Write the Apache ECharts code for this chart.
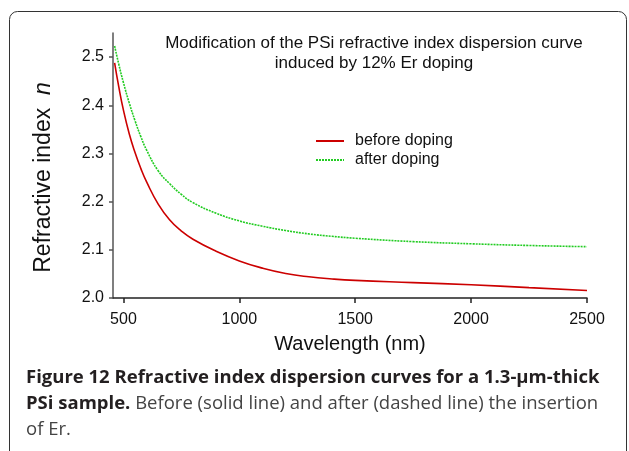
<!DOCTYPE html>
<html>
<head>
<meta charset="utf-8">
<script src="https://cdn.jsdelivr.net/npm/echarts@6/dist/echarts.min.js"></script>
<style>
  html, body { margin: 0; padding: 0; background: #fff; }
  #chart { width: 629px; height: 451px; }
</style>
</head>
<body>
<div id="chart"></div>
<script>
// longitudes de onda (nm)
const wavelengths = [462, 480, 500, 525, 550, 575, 600, 650, 700, 750, 800, 900, 1000, 1100, 1200, 1300, 1400, 1500, 1750, 2000, 2250, 2500];
// indice antes del dopado (linea continua)
const beforeDoping = [2.488, 2.438, 2.390, 2.341, 2.302, 2.269, 2.241, 2.195, 2.162, 2.139, 2.122, 2.097, 2.077, 2.062, 2.051, 2.044, 2.0395, 2.0365, 2.032, 2.0275, 2.0215, 2.0155];
// indice despues del dopado (linea punteada)
const afterDoping = [2.523, 2.485, 2.447, 2.405, 2.368, 2.335, 2.307, 2.264, 2.237, 2.215, 2.198, 2.176, 2.160, 2.149, 2.140, 2.133, 2.128, 2.124, 2.117, 2.1125, 2.109, 2.1065];
const xTicks = [500, 1000, 1500, 2000, 2500];
const yTicks = [2.0, 2.1, 2.2, 2.3, 2.4, 2.5];
const seriesNames = ['before doping', 'after doping'];

const chart = echarts.init(document.getElementById('chart'));
const font = '"Liberation Sans", Arial, sans-serif';
const capFont = '"Open Sans", Lato, sans-serif';

const option = {
  backgroundColor: '#fff',
  animation: false,
  title: {
    text: 'Modification of the PSi refractive index dispersion curve\ninduced by 12% Er doping',
    left: 374,
    top: 33,
    padding: 0,
    textAlign: 'center',
    textStyle: { fontFamily: font, fontSize: 17, fontWeight: 'normal', color: '#111', lineHeight: 20 }
  },
  legend: {
    orient: 'vertical',
    left: 315,
    top: 133,
    padding: 0,
    itemWidth: 28,
    itemHeight: 10,
    itemGap: 3,
    data: seriesNames,
    itemStyle: { opacity: 0 },
    textStyle: { fontFamily: font, fontSize: 16, color: '#111', padding: [0, 0, 0, 6] }
  },
  grid: { left: 113, right: 42, top: 33, bottom: 153, containLabel: false },
  xAxis: {
    type: 'value',
    min: 455,
    max: 2500,
    name: 'Wavelength (nm)',
    nameLocation: 'middle',
    nameGap: 36,
    nameTextStyle: { fontFamily: font, fontSize: 20, color: '#111' },
    axisLine: { show: true, onZero: false, lineStyle: { color: '#222', width: 1.5 } },
    axisTick: { show: true, customValues: xTicks, length: 5, lineStyle: { color: '#222', width: 1.5 } },
    axisLabel: { customValues: xTicks, margin: 14, fontFamily: font, fontSize: 16, color: '#111', formatter: v => String(v) },
    splitLine: { show: false }
  },
  yAxis: {
    type: 'value',
    min: 2.0,
    max: 2.55,
    name: 'Refractive index  {i|n}',
    nameLocation: 'middle',
    nameGap: 58,
    nameTextStyle: {
      fontFamily: font, fontSize: 23, color: '#111', padding: [0, 24, 0, 0],
      rich: { i: { fontFamily: font, fontSize: 23, fontStyle: 'italic', color: '#111' } }
    },
    axisLine: { show: true, onZero: false, lineStyle: { color: '#555', width: 1.5 } },
    axisTick: { show: true, customValues: yTicks, length: 4, lineStyle: { color: '#555', width: 1.5 } },
    axisLabel: { customValues: yTicks, margin: 9, fontFamily: font, fontSize: 16, color: '#111', formatter: v => v.toFixed(1) },
    splitLine: { show: false }
  },
  series: [
    {
      name: seriesNames[0],
      type: 'line',
      smooth: true,
      symbol: 'none',
      data: wavelengths.map((w, i) => [w, beforeDoping[i]]),
      itemStyle: { color: '#cc0000' },
      lineStyle: { color: '#cc0000', width: 1.6, type: 'solid' }
    },
    {
      name: seriesNames[1],
      type: 'line',
      smooth: true,
      symbol: 'none',
      data: wavelengths.map((w, i) => [w, afterDoping[i]]),
      itemStyle: { color: '#22cc22' },
      lineStyle: { color: '#22cc22', width: 1.6, type: [2, 1] }
    }
  ],
  graphic: [
    {
      type: 'rect',
      silent: true,
      shape: { x: 9.5, y: 11.5, width: 617, height: 520, r: 8 },
      style: { fill: 'none', stroke: '#333', lineWidth: 1 }
    },
    {
      type: 'text',
      left: 26,
      top: 365,
      style: {
        text: '{b|Figure 12 Refractive index dispersion curves for a 1.3-µm-thick}\n{b|PSi sample.} Before (solid line) and after (dashed line) the insertion\nof Er.',
        fontFamily: capFont,
        fontSize: 18.5,
        lineHeight: 26,
        fill: '#444',
        rich: {
          b: { fontFamily: capFont, fontSize: 18.5, fontWeight: 'bold', fill: '#231f20', lineHeight: 26 }
        }
      }
    }
  ]
};

chart.setOption(option);
window.addEventListener('resize', () => chart.resize());
</script>
</body>
</html>
